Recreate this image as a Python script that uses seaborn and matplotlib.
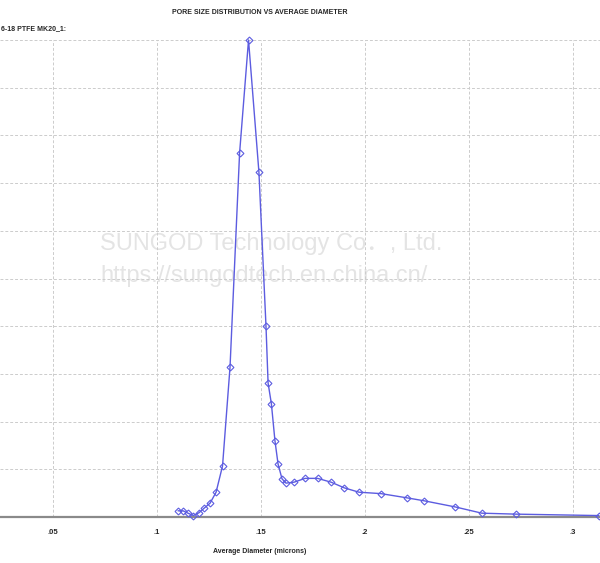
import pandas as pd
import matplotlib
matplotlib.use("Agg")
import matplotlib.pyplot as plt
import seaborn as sns

# Pore size distribution values
diameter = [0.1101, 0.1125, 0.1149, 0.1175, 0.1202, 0.1228, 0.1255, 0.1284,
            0.1315, 0.1351, 0.1397, 0.1440, 0.1490, 0.1524, 0.1534, 0.1550,
            0.1567, 0.1582, 0.1601, 0.1620, 0.1659, 0.1712, 0.1772, 0.1837,
            0.1901, 0.1971, 0.2077, 0.2204, 0.2284, 0.2435, 0.2562, 0.2726,
            0.3125]
distribution = [0.13, 0.13, 0.08, 0.03, 0.09, 0.19, 0.29, 0.52,
                1.07, 3.14, 7.63, 10.0, 7.23, 4.00, 2.81, 2.37,
                1.60, 1.11, 0.80, 0.71, 0.73, 0.81, 0.81, 0.73,
                0.61, 0.52, 0.49, 0.40, 0.34, 0.21, 0.08, 0.06,
                0.03]
x_ticks = [0.05, 0.1, 0.15, 0.2, 0.25, 0.3]
x_tick_labels = ['.05', '.1', '.15', '.2', '.25', '.3']
y_grid = list(range(0, 11))

df = pd.DataFrame({'diameter': diameter, 'distribution': distribution})

sns.set_style("white")
plt.rcParams['font.family'] = ['Liberation Sans', 'Noto Sans CJK SC', 'DejaVu Sans']

fig = plt.figure(figsize=(6, 5.63), dpi=100)
ax = fig.add_axes([0.0, 46 / 563, 1.0, 477 / 563])

# watermark
ax.text(0.167, 0.573, 'SUNGOD Technology Co\uff0e, Ltd.', transform=ax.transAxes,
        fontsize=17, color='#e4e4e4', ha='left', va='center', zorder=0)
ax.text(0.167, 0.506, 'https://sungodtech.en.china.cn/', transform=ax.transAxes,
        fontsize=17, color='#e4e4e4', ha='left', va='center', zorder=0)

sns.lineplot(data=df, x='diameter', y='distribution', ax=ax, sort=False,
             color='#5c5ce0', linewidth=1.0, marker='D', markersize=3.5,
             markerfacecolor='none', markeredgecolor='#5c5ce0',
             markeredgewidth=0.8, clip_on=False, zorder=3)

ax.set_xlim(0.0245, 0.313)
ax.set_ylim(0, 10)
ax.set_xticks(x_ticks)
ax.set_xticklabels(x_tick_labels, fontsize=5.5, fontweight='bold')
ax.set_yticks(y_grid)
ax.set_yticklabels([])
ax.tick_params(axis='x', length=3, color='#888888', pad=6)
ax.tick_params(axis='y', length=0)
ax.grid(True, color='#cccccc', linestyle=(0, (3, 2)), linewidth=0.7)

for side in ['top', 'right', 'left']:
    ax.spines[side].set_visible(False)
ax.spines['bottom'].set_color('#8a8a8a')
ax.spines['bottom'].set_linewidth(1.6)

ax.set_xlabel('Average Diameter (microns)', fontsize=5, fontweight='bold')
ax.xaxis.set_label_coords(0.433, -0.065)
ax.set_ylabel('')

fig.text(0.433, 1 - 13 / 563, 'PORE SIZE DISTRIBUTION VS AVERAGE DIAMETER',
         ha='center', va='center', fontsize=5, fontweight='bold')
fig.text(0.002, 1 - 29 / 563, '6-18 PTFE MK20_1:', ha='left', va='center',
         fontsize=5, fontweight='bold')

fig.savefig('out.png', dpi=100)
